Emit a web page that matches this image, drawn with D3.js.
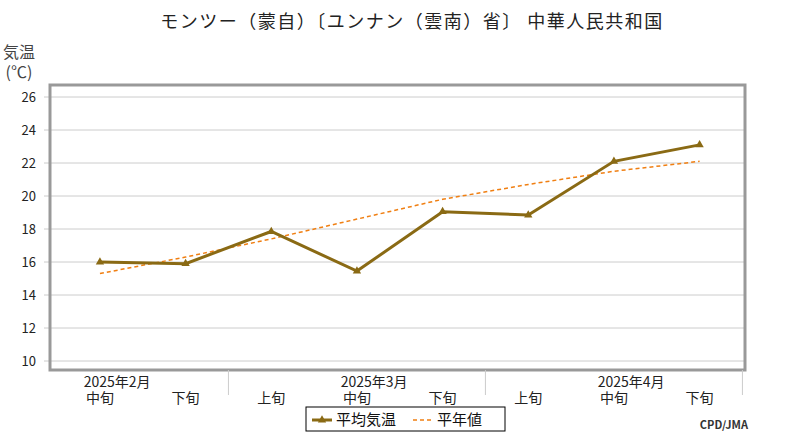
<!DOCTYPE html><html><head><meta charset="utf-8"><script src="https://cdn.jsdelivr.net/npm/d3@7"></script>
<style>body{margin:0;background:#fff}text{font-family:"Noto Sans CJK JP",sans-serif}</style></head><body><svg id="c" width="800" height="440"></svg><script>
const categories=["中旬","下旬","上旬","中旬","下旬","上旬","中旬","下旬"];
const months=["2025年2月","2025年3月","2025年4月"];
const avgTemp=[16.0,15.9,17.85,15.45,19.05,18.85,22.1,23.1];
const normal=[15.3,16.3,17.4,18.6,19.8,20.7,21.5,22.1];
const yTicks=[10,12,14,16,18,20,22,24,26];
const svg=d3.select("#c");
const x=d3.scaleLinear().domain([-0.583,7.53]).range([50,745]);
const y=d3.scaleLinear().domain([10,26]).range([361,97]);
svg.append("text").attr("x",412).attr("y",28).attr("text-anchor","middle").attr("font-size",18).attr("letter-spacing",1.5).attr("fill","#222").text("モンツー（蒙自）〔ユンナン（雲南）省〕 中華人民共和国");
svg.append("text").attr("x",19).attr("y",58).attr("text-anchor","middle").attr("font-size",16).attr("fill","#444").text("気温");
svg.append("text").attr("x",19).attr("y",78).attr("text-anchor","middle").attr("font-size",16).attr("fill","#444").text("(℃)");
yTicks.forEach(t=>{svg.append("line").attr("x1",44).attr("x2",745).attr("y1",y(t)).attr("y2",y(t)).attr("stroke","#ccc");
svg.append("text").attr("x",36).attr("y",y(t)+5).attr("text-anchor","end").attr("font-size",13).attr("fill","#222").attr("font-family","DejaVu Sans").text(t);});
svg.append("rect").attr("x",50).attr("y",85).attr("width",695).attr("height",285).attr("fill","none").attr("stroke","#999").attr("stroke-width",3);
[1.5,4.5,7.5].forEach(s=>svg.append("line").attr("x1",x(s)).attr("x2",x(s)).attr("y1",370).attr("y2",395).attr("stroke","#ccc"));
months.forEach((m,i)=>svg.append("text").attr("x",x(0.2+3*i)).attr("y",387).attr("text-anchor","middle").attr("font-size",14).attr("fill","#222").text(m));
categories.forEach((c,i)=>svg.append("text").attr("x",x(i)).attr("y",403).attr("text-anchor","middle").attr("font-size",14).attr("fill","#222").text(c));
const line=d3.line().x((d,i)=>x(i)).y(d=>y(d));
svg.append("path").attr("d",line(normal)).attr("fill","none").attr("stroke","#f07f12").attr("stroke-width",1.5).attr("stroke-dasharray","4,3");
svg.append("path").attr("d",line(avgTemp)).attr("fill","none").attr("stroke","#8a6a14").attr("stroke-width",3);
const tri=d3.symbol().type(d3.symbolTriangle).size(30);
svg.selectAll(".m").data(avgTemp).join("path").attr("transform",(d,i)=>`translate(${x(i)},${y(d)})`).attr("d",tri).attr("fill","#8a6a14");
const lg=svg.append("g");
lg.append("rect").attr("x",306).attr("y",407).attr("width",199).attr("height",24).attr("fill","#fff").attr("stroke","#000");
lg.append("line").attr("x1",312).attr("x2",332).attr("y1",420).attr("y2",420).attr("stroke","#8a6a14").attr("stroke-width",3);
lg.append("path").attr("transform","translate(322,420)").attr("d",tri).attr("fill","#8a6a14");
lg.append("text").attr("x",336).attr("y",425).attr("font-size",15).attr("fill","#111").text("平均気温");
lg.append("line").attr("x1",413).attr("x2",433).attr("y1",420).attr("y2",420).attr("stroke","#f07f12").attr("stroke-width",1.5).attr("stroke-dasharray","4,3");
lg.append("text").attr("x",437).attr("y",425).attr("font-size",15).attr("fill","#111").text("平年値");
svg.append("text").attr("x",748).attr("y",429).attr("text-anchor","end").attr("font-size",11).attr("font-weight","bold").attr("fill","#333").attr("font-family","DejaVu Sans Mono").text("CPD/JMA");
</script></body></html>
